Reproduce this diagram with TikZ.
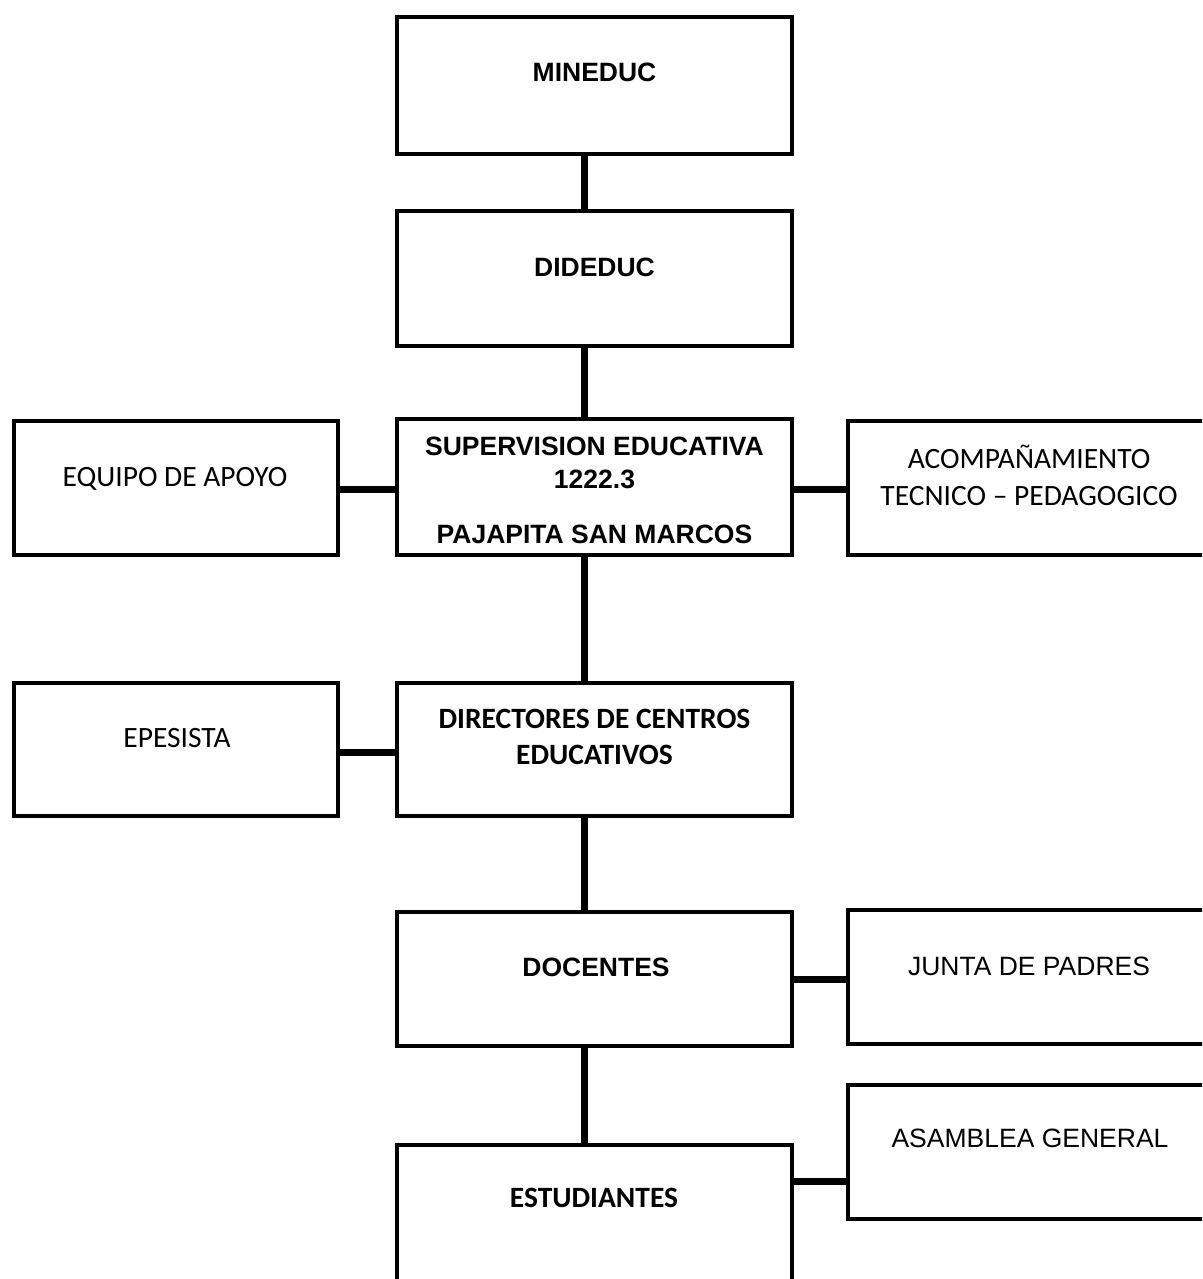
\documentclass[tikz,border=0pt]{standalone}
\usepackage{fontspec}
\setmainfont{Liberation Sans}
\newfontfamily\calfont{Carlito}
\begin{document}
\begin{tikzpicture}[x=1pt,y=-1pt,
  box/.style={draw, line width=4pt, inner sep=0pt},
  conn/.style={line width=7pt},
  ab/.style={font=\fontsize{26.5}{31}\selectfont\bfseries, anchor=base, inner sep=0pt},
  ar/.style={font=\fontsize{26.5}{31}\selectfont, anchor=base, inner sep=0pt},
  cb/.style={font=\calfont\fontsize{29.5}{34}\selectfont\bfseries, anchor=base, inner sep=0pt},
  cr/.style={font=\calfont\fontsize{29.5}{34}\selectfont, anchor=base, inner sep=0pt}]
\useasboundingbox (0,0) rectangle (1202,1279);
\clip (0,0) rectangle (1202,1279);
\fill[white] (0,0) rectangle (1202,1279);

% boxes
\node[box, minimum width=395pt, minimum height=137pt] (mineduc) at (594.5,85.5) {};
\node[box, minimum width=395pt, minimum height=135pt] (dideduc) at (594.5,278.5) {};
\node[box, minimum width=395pt, minimum height=136pt] (superv) at (594.5,487) {};
\node[box, minimum width=324pt, minimum height=134pt] (equipo) at (176,488) {};
\node[box, minimum width=364pt, minimum height=134pt] (acomp) at (1030,488) {};
\node[box, minimum width=395pt, minimum height=133pt] (direct) at (594.5,749.5) {};
\node[box, minimum width=324pt, minimum height=133pt] (epes) at (176,749.5) {};
\node[box, minimum width=395pt, minimum height=134pt] (docen) at (594.5,979) {};
\node[box, minimum width=364pt, minimum height=134pt] (junta) at (1030,977) {};
\node[box, minimum width=364pt, minimum height=134pt] (asamb) at (1030,1152) {};
\node[box, minimum width=395pt, minimum height=150pt] (estud) at (594.5,1220) {};

% connectors
\draw[conn] ([xshift=-10.5pt]mineduc.south) -- ([xshift=-10.5pt]dideduc.north);
\draw[conn] ([xshift=-10.5pt]dideduc.south) -- ([xshift=-10.5pt]superv.north);
\draw[conn] ([xshift=-10.5pt]superv.south) -- ([xshift=-10.5pt]direct.north);
\draw[conn] ([xshift=-10.5pt]direct.south) -- ([xshift=-10.5pt]docen.north);
\draw[conn] ([xshift=-10.5pt]docen.south) -- ([xshift=-10.5pt]estud.north);
\draw[conn] ([yshift=-1pt]equipo.east) -- ([yshift=-1pt]equipo.east -| superv.west);
\draw[conn] ([yshift=-2pt]superv.east) -- ([yshift=-2pt]superv.east -| acomp.west);
\draw[conn] ([yshift=-2.5pt]epes.east) -- ([yshift=-2.5pt]epes.east -| direct.west);
\draw[conn] (docen.east) -- (docen.east -| junta.west);
\draw[conn] ([yshift=-29pt]asamb.west) -- ([yshift=-29pt]asamb.west -| estud.east);

% texts
\node[ab] (tmin) at (594.5,82) {MINEDUC};
\node[ab] (tdid) at (594.5,276) {DIDEDUC};
\node[ab] (tsup1) at (594.5,455) {SUPERVISION EDUCATIVA};
\node[ab] (tsup2) at (594.5,488) {1222.3};
\node[ab] (tsup3) at (594.5,543) {PAJAPITA SAN MARCOS};
\node[cr] (tequ) at (175,486) {EQUIPO DE APOYO};
\node[cr] (tac1) at (1029,468) {ACOMPAÑAMIENTO};
\node[cr] (tac2) at (1029,505) {TECNICO – PEDAGOGICO};
\node[cb] (tdir1) at (594.5,728) {DIRECTORES DE CENTROS};
\node[cb] (tdir2) at (594.5,764) {EDUCATIVOS};
\node[cr] (tepe) at (177,747) {EPESISTA};
\node[ab] (tdoc) at (596,976) {DOCENTES};
\node[ar] (tjun) at (1029,975) {JUNTA DE PADRES};
\node[cb] (test) at (594,1207) {ESTUDIANTES};
\node[ar] (tasa) at (1030,1147) {ASAMBLEA GENERAL};
\end{tikzpicture}
\end{document}
